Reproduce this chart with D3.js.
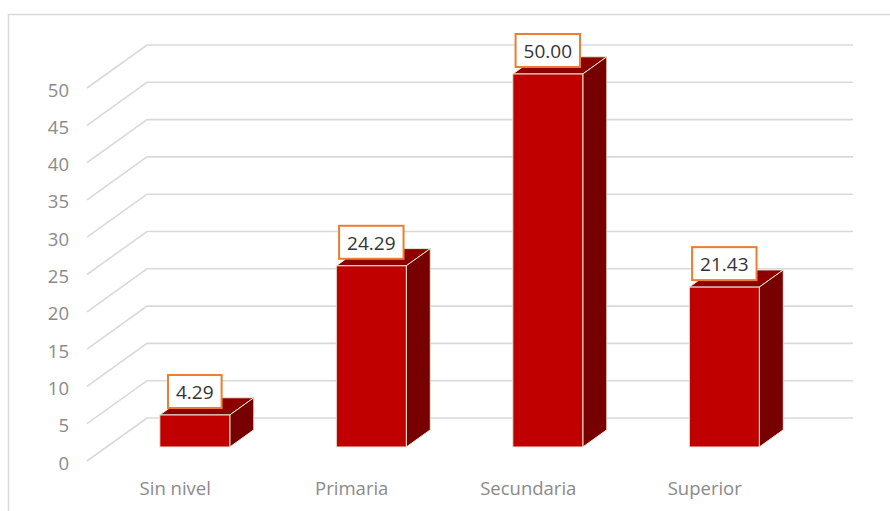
<!DOCTYPE html>
<html>
<head>
<meta charset="utf-8">
<script src="https://cdn.jsdelivr.net/npm/d3@7"></script>
<style>
  html, body { margin: 0; padding: 0; background: #fff; }
  svg { display: block; }
  text { font-family: "Open Sans", sans-serif; }
</style>
</head>
<body>
<svg id="chart" width="890" height="511"></svg>
<script>
// Nivel educativo (%)
const categories = ["Sin nivel", "Primaria", "Secundaria", "Superior"];
const values = [4.29, 24.29, 50.00, 21.43];
const yTicks = [0, 5, 10, 15, 20, 25, 30, 35, 40, 45, 50];

const svg = d3.select("#chart");

// Oblique 3D projection: floor front edge, plus a depth vector toward the back wall
const depth = { dx: 60, dy: -43 };
const x = d3.scaleBand().domain(categories).range([87, 793]);
const y = d3.scaleLinear().domain([0, 50]).range([461, 88]);

// Position of a point given value v and depth fraction d (0 = front, 1 = back wall)
const px = (xv, d) => xv + depth.dx * d;
const py = (v, d) => y(v) + depth.dy * d;

// Outer frame
svg.append("rect")
  .attr("x", 8.5).attr("y", 14.5)
  .attr("width", 900).attr("height", 520)
  .attr("fill", "none").attr("stroke", "#d9d9d9").attr("stroke-width", 1.5);

// Gridlines on side wall and back wall
const xStart = x.range()[0], xEnd = x.range()[1];
svg.append("g").selectAll("polyline")
  .data(yTicks)
  .join("polyline")
  .attr("points", t => [
    [px(xStart, 0), py(t, 0)],
    [px(xStart, 1), py(t, 1)],
    [px(xEnd, 1), py(t, 1)]
  ].map(p => p.join(",")).join(" "))
  .attr("fill", "none")
  .attr("stroke", "#d9d9d9")
  .attr("stroke-width", 1.6);

// Y axis labels
svg.append("g").selectAll("text")
  .data(yTicks)
  .join("text")
  .attr("x", 69)
  .attr("y", t => y(t) + 8.5)
  .attr("text-anchor", "end")
  .attr("font-size", 18.5)
  .attr("fill", "#8a8a8a")
  .text(t => t);

// Category labels
svg.append("g").selectAll("text")
  .data(categories)
  .join("text")
  .attr("x", c => x(c) + x.bandwidth() / 2)
  .attr("y", 495)
  .attr("text-anchor", "middle")
  .attr("font-size", 18.5)
  .attr("fill", "#8a8a8a")
  .text(c => c);

// 3D columns
const dFront = 0.326, dBack = 0.726;
const faceW = 70;
const bars = categories.map((c, i) => {
  const cx = px(x(c) + x.bandwidth() / 2, dFront);
  return { c, v: values[i], x0: cx - faceW / 2, x1: cx + faceW / 2, cx };
});

const edge = "#e4ead3";
const gBars = svg.append("g");
bars.forEach(b => {
  const off = (d) => depth.dx * (d - dFront);
  const fTop = py(b.v, dFront), fBot = py(0, dFront);
  const bTop = py(b.v, dBack), bBot = py(0, dBack);
  const sh = off(dBack);
  const poly = pts => pts.map(p => p.join(",")).join(" ");
  // top face
  gBars.append("polygon")
    .attr("points", poly([[b.x0, fTop], [b.x1, fTop], [b.x1 + sh, bTop], [b.x0 + sh, bTop]]))
    .attr("fill", "#8e0000").attr("stroke", edge).attr("stroke-width", 1);
  // side face
  gBars.append("polygon")
    .attr("points", poly([[b.x1, fTop], [b.x1 + sh, bTop], [b.x1 + sh, bBot], [b.x1, fBot]]))
    .attr("fill", "#770000").attr("stroke", edge).attr("stroke-width", 1);
  // front face
  gBars.append("rect")
    .attr("x", b.x0).attr("y", fTop)
    .attr("width", b.x1 - b.x0).attr("height", fBot - fTop)
    .attr("fill", "#c00000").attr("stroke", edge).attr("stroke-width", 1);
});

// Value labels in boxes
const gLab = svg.append("g");
bars.forEach(b => {
  const g = gLab.append("g");
  const boxH = 33;
  const bottom = py(b.v, dFront) - 7;
  const t = g.append("text")
    .attr("x", b.cx)
    .attr("y", bottom - boxH / 2 + 7.5)
    .attr("text-anchor", "middle")
    .attr("font-size", 19)
    .attr("fill", "#333333")
    .text(b.v.toFixed(2));
  const w = t.node().getComputedTextLength() + 16;
  g.insert("rect", "text")
    .attr("x", b.cx - w / 2).attr("y", bottom - boxH)
    .attr("width", w).attr("height", boxH)
    .attr("fill", "#ffffff")
    .attr("stroke", "#ed7d31").attr("stroke-width", 2);
});
</script>
</body>
</html>
